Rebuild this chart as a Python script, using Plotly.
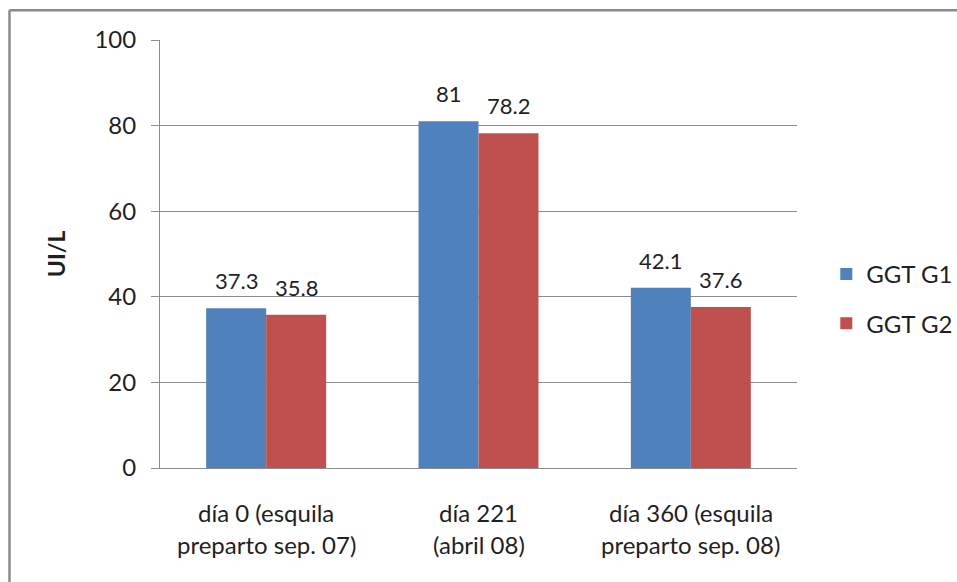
import plotly.graph_objects as go

# Category labels (two lines each) and GGT values per group
categories = ["día 0", "día 221", "día 360"]
label_line1 = ["día 0 (esquila", "día 221", "día 360 (esquila"]
label_line2 = ["preparto sep. 07)", "(abril 08)", "preparto sep. 08)"]
series_names = ["GGT G1", "GGT G2"]
ggt_g1 = [37.3, 81, 42.1]
ggt_g2 = [35.8, 78.2, 37.6]
y_ticks = [0, 20, 40, 60, 80, 100]

FONT = "Lato"
TXT = "#1f1f1f"
GRID = "#8c8c8c"
colors = ["#4F81BD", "#C0504D"]
label_xshift = [-30, 30]   # centre of each bar inside its group, in px

fig = go.Figure()
for i, (name, vals) in enumerate(zip(series_names, [ggt_g1, ggt_g2])):
    fig.add_trace(go.Bar(
        x=categories, y=vals, name=name,
        marker=dict(color=colors[i], line=dict(width=0)),
        legendgroup=name,
    ))
    # value labels sitting above each bar
    for c, v in zip(categories, vals):
        fig.add_annotation(x=c, xref="x", y=v, yref="y", text=f"{v:g}",
                           showarrow=False, yanchor="bottom", xanchor="center",
                           xshift=label_xshift[i], yshift=12,
                           font=dict(family=FONT, size=22, color=TXT))

# Two-line category labels placed under each category
for c, l1, l2 in zip(categories, label_line1, label_line2):
    fig.add_annotation(x=c, xref="x", y=-0.103, yref="paper", text=l1,
                       showarrow=False, yanchor="middle",
                       font=dict(family=FONT, size=24, color=TXT))
    fig.add_annotation(x=c, xref="x", y=-0.178, yref="paper", text=l2,
                       showarrow=False, yanchor="middle",
                       font=dict(family=FONT, size=24, color=TXT))

# Y axis title
fig.add_annotation(x=-0.163, xref="paper", y=0.5, yref="paper", text="<b>UI/L</b>",
                   textangle=-90, showarrow=False, xanchor="center", yanchor="middle",
                   font=dict(family=FONT, size=23, color=TXT))

# Chart frame (left and top edges)
fig.add_shape(type="line", xref="paper", yref="paper", x0=-0.2363, x1=-0.2363,
              y0=-0.4, y1=1.0694, line=dict(color="#8a8a8a", width=2.5))
fig.add_shape(type="line", xref="paper", yref="paper", x0=-0.2363, x1=1.4,
              y0=1.0694, y1=1.0694, line=dict(color="#8a8a8a", width=2.5))

fig.update_layout(
    width=957, height=582,
    margin=dict(l=160, r=160, t=40, b=114, autoexpand=False),
    paper_bgcolor="white", plot_bgcolor="white",
    barmode="group", bargap=0.435, bargroupgap=0,
    font=dict(family=FONT, size=24, color=TXT),
    showlegend=True,
    legend=dict(x=1.046, xanchor="left", y=0.505, yanchor="top",
                font=dict(family=FONT, size=24, color=TXT),
                tracegroupgap=15, traceorder="grouped",
                itemwidth=30, bgcolor="rgba(0,0,0,0)"),
    xaxis=dict(showticklabels=False, showline=True, linecolor=GRID, linewidth=1,
               ticks="", showgrid=False, zeroline=False),
    yaxis=dict(range=[0, 100], tickvals=y_ticks, showline=True, linecolor=GRID,
               linewidth=1, ticks="outside", ticklen=8, tickcolor=GRID,
               showgrid=True, gridcolor=GRID, gridwidth=1, zeroline=False,
               tickfont=dict(family=FONT, size=24, color=TXT),
               ticklabelstandoff=10),
)

fig.write_html("out.html")
